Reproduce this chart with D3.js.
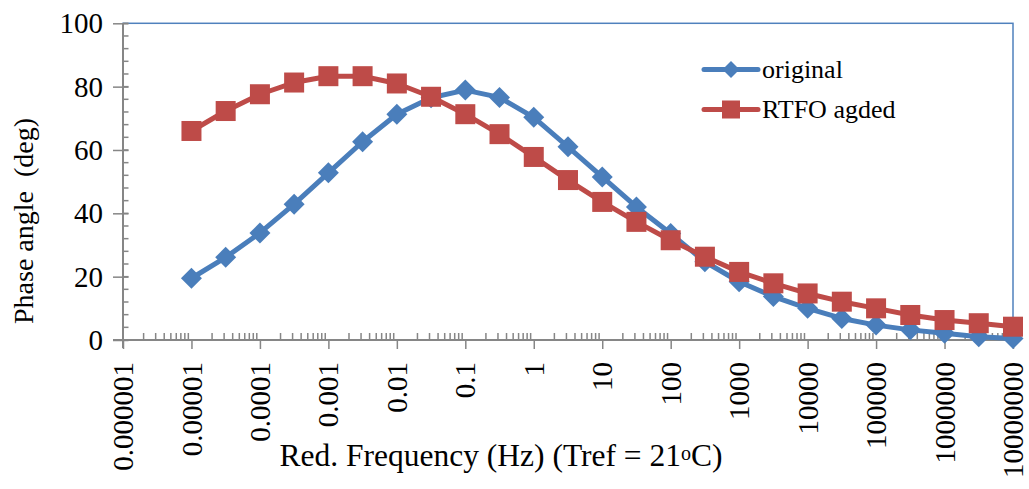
<!DOCTYPE html>
<html>
<head>
<meta charset="utf-8">
<script src="https://cdn.jsdelivr.net/npm/d3@7"></script>
<style>
html,body{margin:0;padding:0;background:#fff;}
svg{display:block;}
</style>
</head>
<body>
<svg id="chart" width="1029" height="489"></svg>
<script>
// ---- data ----
const frequencies = [0.00001, 0.0000316, 0.0001, 0.000316, 0.001, 0.00316, 0.01, 0.0316, 0.1, 0.316,
  1, 3.16, 10, 31.6, 100, 316, 1000, 3160, 10000, 31600, 100000, 316000, 1000000, 3160000, 10000000];
const originalValues = [19.5, 26.1, 33.8, 42.9, 52.8, 62.6, 71.3, 76.5, 78.9, 76.6,
  70.3, 61.0, 51.5, 42.0, 33.6, 24.7, 18.4, 13.7, 10.0, 6.8, 4.7, 3.2, 2.1, 1.0, 0.5];
const rtfoValues = [66.0, 72.3, 77.6, 81.3, 83.3, 83.3, 81.0, 76.8, 71.3, 65.0,
  57.8, 50.5, 43.6, 37.3, 31.5, 26.3, 21.5, 17.9, 14.7, 12.1, 10.0, 7.9, 6.3, 5.3, 4.2];
const seriesNames = ["original", "RTFO agded"];
const xTickValues = [0.000001, 0.00001, 0.0001, 0.001, 0.01, 0.1, 1, 10, 100, 1000, 10000, 100000, 1000000, 10000000];
const xTickLabels = ["0.000001", "0.00001", "0.0001", "0.001", "0.01", "0.1", "1", "10", "100", "1000", "10000", "100000", "1000000", "10000000"];
const yTickValues = [0, 20, 40, 60, 80, 100];
const yTitle = "Phase angle  (deg)";

const FONT = "'Liberation Serif', serif";

// ---- layout ----
const svg = d3.select("#chart");
const L = 123, R = 1013, T = 23.3, B = 340;
const x = d3.scaleLog().domain([1e-6, 1e7]).range([L, R]);
const y = d3.scaleLinear().domain([0, 100]).range([B, T]);
const blue = "#4A7EBB", red = "#BE4B48", axisCol = "#868686";

// plot area border (top/right visible in blue)
svg.append("rect").attr("x", L).attr("y", T).attr("width", R - L).attr("height", B - T)
  .attr("fill", "none").attr("stroke", "#4F81BD").attr("stroke-width", 1.5);

// y axis minor ticks
const yMinor = d3.range(0, 101, 4);
svg.append("g").selectAll("line").data(yMinor).join("line")
  .attr("x1", L).attr("x2", L + 5.5).attr("y1", d => y(d)).attr("y2", d => y(d))
  .attr("stroke", axisCol).attr("stroke-width", 1.5);
// y axis major ticks + labels via d3 axis
const yAxis = d3.axisLeft(y).tickValues(yTickValues).tickSize(10).tickPadding(10).tickFormat(d3.format("d"));
const gy = svg.append("g").attr("transform", `translate(${L},0)`).call(yAxis);
gy.attr("font-family", null).attr("font-size", null);
gy.select(".domain").remove();
gy.selectAll(".tick line").attr("stroke", axisCol).attr("stroke-width", 1.5).attr("x2", -10).attr("x1", 5.5);
gy.selectAll(".tick text").style("font-size", "29px").style("font-family", FONT).attr("fill", "#000").attr("dy", "0.33em");
svg.append("line").attr("x1", L).attr("x2", L).attr("y1", T).attr("y2", B + 8)
  .attr("stroke", axisCol).attr("stroke-width", 2);

// x axis minor ticks (upward)
const xMinor = [];
for (let i = 0; i < xTickValues.length - 1; i++) {
  for (let m = 2; m <= 9; m++) xMinor.push(xTickValues[i] * m);
}
svg.append("g").selectAll("line").data(xMinor).join("line")
  .attr("x1", d => x(d)).attr("x2", d => x(d)).attr("y1", B).attr("y2", B - 7)
  .attr("stroke", axisCol).attr("stroke-width", 1.5);
const xAxis = d3.axisBottom(x).tickValues(xTickValues).tickSize(9)
  .tickFormat((d, i) => xTickLabels[i]);
const gx = svg.append("g").attr("transform", `translate(0,${B})`).call(xAxis);
gx.attr("font-family", null).attr("font-size", null);
gx.select(".domain").remove();
gx.selectAll(".tick line").attr("stroke", axisCol).attr("stroke-width", 1.5);
gx.selectAll(".tick text")
  .style("font-size", "29px").style("font-family", FONT).attr("fill", "#000")
  .attr("text-anchor", "end").attr("transform", "rotate(-90)")
  .attr("x", -22).attr("y", 0).attr("dy", "0.33em");
svg.append("line").attr("x1", L - 10).attr("x2", R).attr("y1", B).attr("y2", B)
  .attr("stroke", axisCol).attr("stroke-width", 2);

// ---- series ----
const line = d3.line().x(d => x(d[0])).y(d => y(d[1]));
const origData = frequencies.map((f, i) => [f, originalValues[i]]);
const rtfoData = frequencies.map((f, i) => [f, rtfoValues[i]]);
const diamond = (cx, cy, r) => `M${cx},${cy - r}L${cx + r},${cy}L${cx},${cy + r}L${cx - r},${cy}Z`;

svg.append("path").datum(origData).attr("d", line).attr("fill", "none")
  .attr("stroke", blue).attr("stroke-width", 5).attr("stroke-linejoin", "round");
svg.append("g").selectAll("path").data(origData).join("path")
  .attr("d", d => diamond(x(d[0]), y(d[1]), 10.5)).attr("fill", blue);

svg.append("path").datum(rtfoData).attr("d", line).attr("fill", "none")
  .attr("stroke", red).attr("stroke-width", 5).attr("stroke-linejoin", "round");
svg.append("g").selectAll("rect").data(rtfoData).join("rect")
  .attr("x", d => x(d[0]) - 10).attr("y", d => y(d[1]) - 10)
  .attr("width", 20).attr("height", 20).attr("fill", red);

// ---- legend ----
const lg = svg.append("g");
const legendRows = [{name: seriesNames[0], color: blue, shape: "diamond", yy: 69.5},
                    {name: seriesNames[1], color: red, shape: "square", yy: 109.5}];
legendRows.forEach(r => {
  lg.append("line").attr("x1", 704).attr("x2", 758).attr("y1", r.yy).attr("y2", r.yy)
    .attr("stroke", r.color).attr("stroke-width", 5).attr("stroke-linecap", "round");
  if (r.shape === "diamond") lg.append("path").attr("d", diamond(731, r.yy, 8.5)).attr("fill", r.color);
  else lg.append("rect").attr("x", 722).attr("y", r.yy - 9).attr("width", 18).attr("height", 18).attr("fill", r.color);
  lg.append("text").attr("x", 762).attr("y", r.yy + 8)
    .style("font-size", "26px").style("font-family", FONT).attr("fill", "#000").text(r.name);
});

// ---- axis titles ----
svg.append("text").attr("transform", "translate(33,221) rotate(-90)")
  .attr("text-anchor", "middle").style("font-size", "28px").style("font-family", FONT)
  .style("white-space", "pre").attr("fill", "#000").text(yTitle);
const xt = svg.append("text").attr("x", 501).attr("y", 466).attr("text-anchor", "middle")
  .style("font-size", "31.5px").style("font-family", FONT).attr("fill", "#000");
xt.append("tspan").text("Red. Frequency (Hz) (Tref = 21");
xt.append("tspan").style("font-size", "20px").attr("dy", -6).text("o");
xt.append("tspan").attr("dy", 6).text("C)");
</script>
</body>
</html>
